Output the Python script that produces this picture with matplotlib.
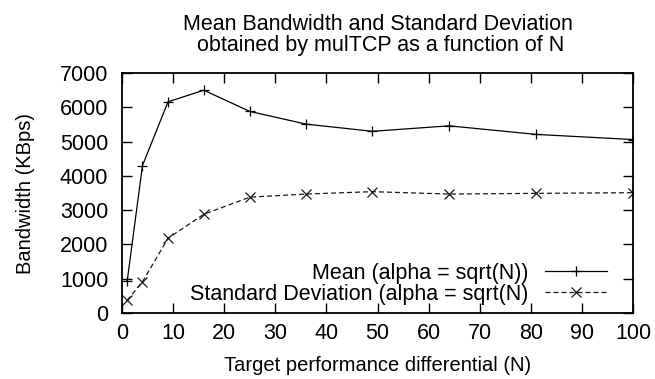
import matplotlib
matplotlib.use('Agg')
from matplotlib import pyplot as plt

# target performance differential N (perfect squares) and bandwidth in KBps
n_values = [1, 4, 9, 16, 25, 36, 49, 64, 81, 100]
mean_bw = [920, 4300, 6160, 6500, 5880, 5510, 5300, 5460, 5210, 5060]
std_bw = [370, 910, 2180, 2880, 3380, 3470, 3540, 3470, 3490, 3510]

x_ticks = list(range(0, 101, 10))
y_ticks = list(range(0, 7001, 1000))

plt.rcParams['font.family'] = ['Liberation Sans', 'DejaVu Sans']
plt.rcParams['font.size'] = 15.5

fig = plt.figure(figsize=(6.55, 3.79), dpi=100)
ax = fig.add_axes([0.1863, 0.1741, 0.7802, 0.6332])

ax.plot(n_values, mean_bw, color='black', lw=0.9, marker='+', ms=7.5, mew=0.9,
        label='Mean (alpha = sqrt(N))')
ax.plot(n_values, std_bw, color='#1a1a1a', lw=0.9, ls=(0, (4, 2.4)), marker='x',
        ms=7, mew=0.9, label='Standard Deviation (alpha = sqrt(N)')

ax.set_xlim(0, 100)
ax.set_ylim(0, 7000)
ax.set_xticks(x_ticks)
ax.set_yticks(y_ticks)
ax.tick_params(direction='in', length=7, width=1, top=True, right=True)
ax.tick_params(axis='x', pad=7)
ax.tick_params(axis='y', pad=10)
for spine in ax.spines.values():
    spine.set_linewidth(1.3)

ax.set_xlabel('Target performance differential (N)', fontsize=14.5, labelpad=9)
ax.set_ylabel('Bandwidth (KBps)', fontsize=14.5, labelpad=18)
ax.set_title('Mean Bandwidth and Standard Deviation\n obtained by mulTCP as a function of N',
             fontsize=15.5, pad=16, linespacing=1.0)

ax.legend(loc='lower right', bbox_to_anchor=(0.949, 0.035), frameon=False,
          markerfirst=False, handlelength=2.9, borderaxespad=0, borderpad=0,
          labelspacing=0.0, handletextpad=0.75)

plt.savefig('out.png', dpi=100)
